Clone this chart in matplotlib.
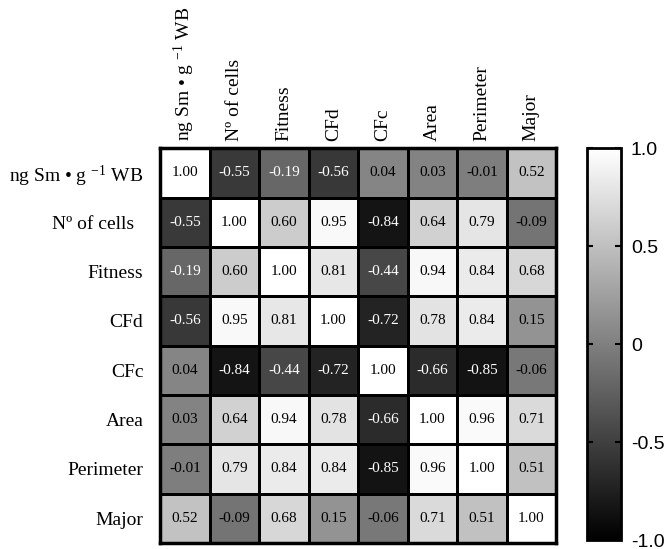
import matplotlib
matplotlib.use('Agg')
import matplotlib.pyplot as plt
import numpy as np

plt.rcParams['font.family'] = 'Liberation Serif'
plt.rcParams['mathtext.fontset'] = 'custom'
plt.rcParams['mathtext.rm'] = 'Liberation Serif'
plt.rcParams['mathtext.default'] = 'regular'

labels = ['ng Sm • g $^{-1}$ WB', 'Nº of cells', 'Fitness', 'CFd', 'CFc',
          'Area', 'Perimeter', 'Major']
row_labels = ['ng Sm • g $^{-1}$ WB', 'Nº of cells  ', 'Fitness', 'CFd', 'CFc',
              'Area', 'Perimeter', 'Major']

corr = np.array([
    [1.00, -0.55, -0.19, -0.56, 0.04, 0.03, -0.01, 0.52],
    [-0.55, 1.00, 0.60, 0.95, -0.84, 0.64, 0.79, -0.09],
    [-0.19, 0.60, 1.00, 0.81, -0.44, 0.94, 0.84, 0.68],
    [-0.56, 0.95, 0.81, 1.00, -0.72, 0.78, 0.84, 0.15],
    [0.04, -0.84, -0.44, -0.72, 1.00, -0.66, -0.85, -0.06],
    [0.03, 0.64, 0.94, 0.78, -0.66, 1.00, 0.96, 0.71],
    [-0.01, 0.79, 0.84, 0.84, -0.85, 0.96, 1.00, 0.51],
    [0.52, -0.09, 0.68, 0.15, -0.06, 0.71, 0.51, 1.00],
])

fig = plt.figure(figsize=(6.7, 5.49), dpi=100)
ax = fig.add_axes([0.239, 0.011, 0.591, 0.719])
cax = fig.add_axes([0.876, 0.016, 0.051, 0.714])

n = len(labels)
im = ax.pcolormesh(corr, cmap='gray', vmin=-1, vmax=1,
                   edgecolors='black', linewidth=1)
ax.set_xlim(0, n)
ax.set_ylim(n, 0)

for i in range(n):
    for j in range(n):
        v = corr[i, j]
        col = 'white' if v < -0.1 else 'black'
        ax.text(j + 0.5, i + 0.5, f'{v:.2f}', ha='center', va='center',
                fontsize=11, color=col)

ax.set_xticks(np.arange(n) + 0.5)
ax.set_yticks(np.arange(n) + 0.5)
ax.set_xticklabels(labels, rotation=90, fontsize=14)
ax.set_yticklabels(row_labels, fontsize=14)
ax.xaxis.tick_top()
ax.tick_params(axis='x', length=0, pad=5)
ax.tick_params(axis='y', length=0, pad=12)
for s in ax.spines.values():
    s.set_linewidth(2.5)

cb = fig.colorbar(im, cax=cax, ticks=[-1, -0.5, 0, 0.5, 1])
cb.ax.set_yticklabels(['-1.0', '-0.5', '0', '0.5', '1.0'],
                      family='Liberation Sans', fontsize=14)
cb.ax.tick_params(direction='in', length=4, width=1.5, left=True, right=True, pad=7)
cb.outline.set_linewidth(2)

plt.savefig('out.png', dpi=100)
